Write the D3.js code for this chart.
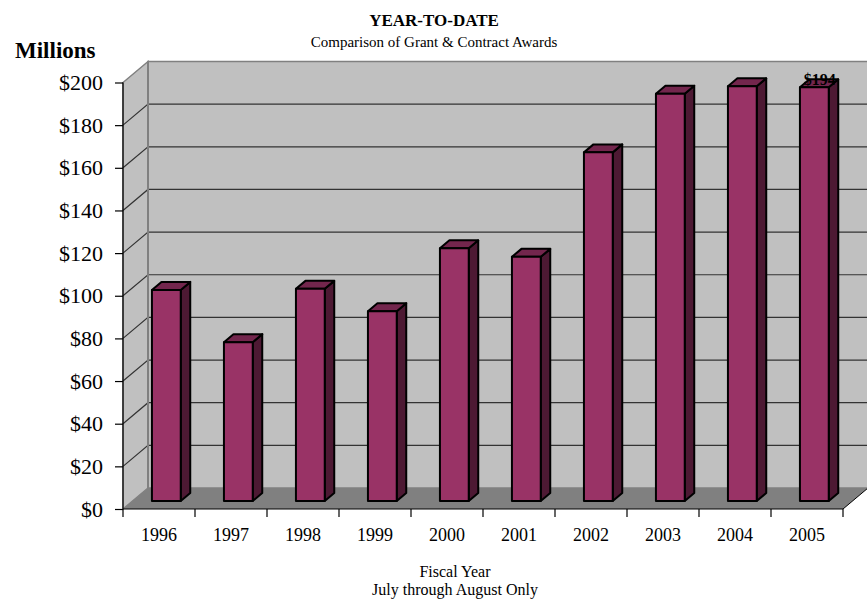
<!DOCTYPE html>
<html>
<head>
<meta charset="utf-8">
<script src="https://cdn.jsdelivr.net/npm/d3@7"></script>
<style>
html,body{margin:0;padding:0;background:#fff;}
svg{display:block;font-family:"Liberation Serif","Times New Roman",serif;}
</style>
</head>
<body>
<svg id="chart" width="867" height="605"></svg>
<script>
const years = ["1996","1997","1998","1999","2000","2001","2002","2003","2004","2005"];
const awards = [99, 74.5, 99.5, 89, 118.5, 114.5, 163.5, 191, 194.5, 194];
const dataLabels = [null, null, null, null, null, null, null, null, null, "$194"];
const yTicks = [0,20,40,60,80,100,120,140,160,180,200];
const yTickLabels = ["$0","$20","$40","$60","$80","$100","$120","$140","$160","$180","$200"];

const svg = d3.select("#chart");
const DX = 25, DY = -21;          // depth offset of the back wall
const F1 = 0.38, F2 = 0.76;       // bar depth (front/back fraction)

const x = d3.scaleBand().domain(years).range([123, 843]);
const y = d3.scaleLinear().domain([0, 200]).range([509, 82.5]);
const X0 = x.range()[0], X1 = x.range()[1];

function P(px, v, f){ return [px + DX*f, y(v) + DY*f]; }
function poly(pts){ return "M" + pts.map(p => p[0].toFixed(2) + "," + p[1].toFixed(2)).join("L") + "Z"; }

// back wall
svg.append("path").attr("d", poly([P(X0,0,1), P(X0,200,1), P(X1,200,1), P(X1,0,1)]))
  .attr("fill", "#c0c0c0").attr("stroke", "#808080").attr("stroke-width", 1.5);
// left side wall
svg.append("path").attr("d", poly([P(X0,0,0), P(X0,200,0), P(X0,200,1), P(X0,0,1)]))
  .attr("fill", "#c0c0c0").attr("stroke", "#808080").attr("stroke-width", 1.5);
// floor
svg.append("path").attr("d", poly([P(X0,0,0), P(X1,0,0), P(X1,0,1), P(X0,0,1)]))
  .attr("fill", "#808080");

// gridlines
const grid = yTicks.filter(v => v > 0 && v < 200);
grid.forEach(v => {
  const a = P(X0, v, 0), b = P(X0, v, 1), c = P(X1, v, 1);
  svg.append("path").attr("d", `M${a[0]},${a[1]}L${b[0]},${b[1]}L${c[0]},${c[1]}`)
    .attr("fill", "none").attr("stroke", "#333").attr("stroke-width", 1.2);
});
// back edge of side wall
{
  const a = P(X0, 0, 1), b = P(X0, 200, 1);
  svg.append("line").attr("x1", a[0]).attr("y1", a[1]).attr("x2", b[0]).attr("y2", b[1])
    .attr("stroke", "#808080").attr("stroke-width", 2);
}
// floor right edge
{
  const a = P(X1, 0, 0), b = P(X1, 0, 1.2);
  svg.append("line").attr("x1", a[0]).attr("y1", a[1]).attr("x2", b[0]).attr("y2", b[1])
    .attr("stroke", "#000").attr("stroke-width", 1);
}

// y axis
const yAxis = d3.axisLeft(y).tickValues(yTicks).tickFormat((d,i) => yTickLabels[i]).tickSize(8).tickPadding(12);
const gy = svg.append("g").attr("transform", `translate(${X0},0)`).call(yAxis);
gy.select(".domain").attr("stroke", "#000").attr("stroke-width", 1.2).attr("d", `M0,${y(200)}V${y(0)}`);
gy.selectAll(".tick line").attr("stroke", "#000").attr("stroke-width", 1.2);
gy.selectAll("text").attr("font-size", 22).attr("fill", "#000")
  .attr("font-family", '"Liberation Serif","Times New Roman",serif');

// x axis
const xAxis = d3.axisBottom(x).tickSize(0).tickPadding(19);
const gx = svg.append("g").attr("transform", `translate(0,${y(0)})`).call(xAxis);
gx.select(".domain").attr("stroke", "#000").attr("stroke-width", 1.2).attr("d", `M${X0},0H${X1}`);
gx.selectAll("text").attr("font-size", 18).attr("fill", "#000")
  .attr("font-family", '"Liberation Serif","Times New Roman",serif');
// category boundary ticks
const bounds = years.map(d => x(d)).concat([X1]);
svg.append("g").selectAll("line").data(bounds).join("line")
  .attr("x1", d => d).attr("x2", d => d).attr("y1", y(0)).attr("y2", y(0) + 8)
  .attr("stroke", "#000").attr("stroke-width", 1.2);

// bars
const bw = x.bandwidth();
const bars = svg.append("g");
years.forEach((yr, i) => {
  const v = awards[i];
  const L = x(yr) + bw * 0.27, R = L + bw * 0.40;
  const g = bars.append("g").attr("stroke", "#000").attr("stroke-width", 2).attr("stroke-linejoin", "round");
  g.append("path").attr("d", poly([P(R,0,F1), P(R,v,F1), P(R,v,F2), P(R,0,F2)])).attr("fill", "#4d1933");
  g.append("path").attr("d", poly([P(L,v,F1), P(R,v,F1), P(R,v,F2), P(L,v,F2)])).attr("fill", "#73264d");
  g.append("path").attr("d", poly([P(L,0,F1), P(R,0,F1), P(R,v,F1), P(L,v,F1)])).attr("fill", "#993366");
  if (dataLabels[i]) {
    const c = P((L + R) / 2, v, 0.6);
    svg.append("text").attr("x", c[0]).attr("y", P(L, v, F2)[1] + 6)
      .attr("text-anchor", "middle").attr("font-size", 16).attr("font-weight", "bold")
      .text(dataLabels[i]);
  }
});

// titles
svg.append("text").attr("x", 434).attr("y", 26).attr("text-anchor", "middle")
  .attr("font-size", 17).attr("font-weight", "bold").text("YEAR-TO-DATE");
svg.append("text").attr("x", 434).attr("y", 47).attr("text-anchor", "middle")
  .attr("font-size", 15).text("Comparison of Grant & Contract Awards");
svg.append("text").attr("x", 15).attr("y", 58)
  .attr("font-size", 23).attr("font-weight", "bold").text("Millions");
svg.append("text").attr("x", 455).attr("y", 577).attr("text-anchor", "middle")
  .attr("font-size", 16).text("Fiscal Year");
svg.append("text").attr("x", 455).attr("y", 595).attr("text-anchor", "middle")
  .attr("font-size", 16).text("July through August Only");
</script>
</body>
</html>
